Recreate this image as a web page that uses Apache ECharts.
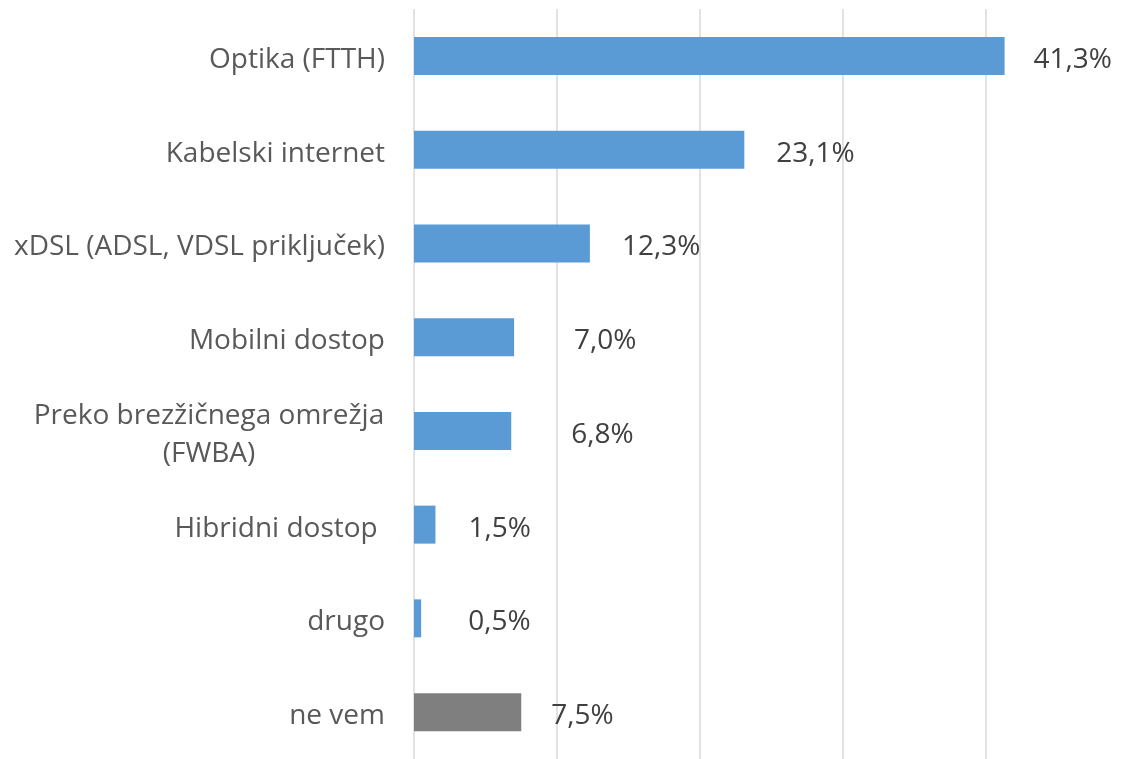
<!DOCTYPE html>
<html>
<head>
<meta charset="utf-8">
<script src="https://cdn.jsdelivr.net/npm/echarts@6/dist/echarts.min.js"></script>
<style>
html, body { margin: 0; padding: 0; background: #fff; }
#chart { width: 1124px; height: 759px; }
</style>
</head>
<body>
<div id="chart"></div>
<script>
// podatki
var categories = ['Optika (FTTH)', 'Kabelski internet', 'xDSL (ADSL, VDSL priključek)', 'Mobilni dostop',
	'Preko brezžičnega omrežja (FWBA)', 'Hibridni dostop ', 'drugo', 'ne vem'];
var values = [41.3, 23.1, 12.3, 7.0, 6.8, 1.5, 0.5, 7.5];
var axisTicks = [0, 10, 20, 30, 40];

// razmik oznak (kot v izvirniku)
var labelGap = [29, 32, 32, 60, 60, 33, 47, 30];
var font = '"Open Sans", sans-serif';

var chart = echarts.init(document.getElementById('chart'));

var option = {
	animation: false,
	grid: { left: 414, top: 9, width: 643.5, height: 754 },
	xAxis: {
		type: 'value',
		min: 0,
		max: 45,
		interval: axisTicks[1] - axisTicks[0],
		axisLabel: { show: false },
		axisLine: { show: false },
		axisTick: { show: false },
		splitLine: { showMaxLine: false, lineStyle: { color: '#D9D9D9', width: 1.5 } }
	},
	yAxis: {
		type: 'category',
		inverse: true,
		data: categories,
		axisLine: { show: false },
		axisTick: { show: false },
		axisLabel: {
			margin: 29,
			fontFamily: font,
			fontSize: 28,
			color: '#595959',
			padding: [8, 0, 0, 0],
			formatter: function (v) {
				if (v.indexOf('(FWBA)') > 0) {
					return '{c|Preko brezžičnega omrežja}\n{c|(FWBA)}';
				}
				return v;
			},
			rich: {
				c: { width: 352, align: 'center', fontFamily: font, fontSize: 28, color: '#595959', lineHeight: 38 }
			}
		}
	},
	series: [{
		type: 'bar',
		barWidth: 38,
		data: values.map(function (v, i) {
			return {
				value: v,
				itemStyle: { color: categories[i] === 'ne vem' ? '#7F7F7F' : '#5B9BD5' },
				label: { distance: labelGap[i] }
			};
		}),
		label: {
			show: true,
			position: 'right',
			offset: [0, 4],
			fontFamily: font,
			fontSize: 28,
			color: '#404040',
			formatter: function (p) {
				return p.value.toFixed(1).replace('.', ',') + '%';
			}
		}
	}]
};

chart.setOption(option);
</script>
</body>
</html>
